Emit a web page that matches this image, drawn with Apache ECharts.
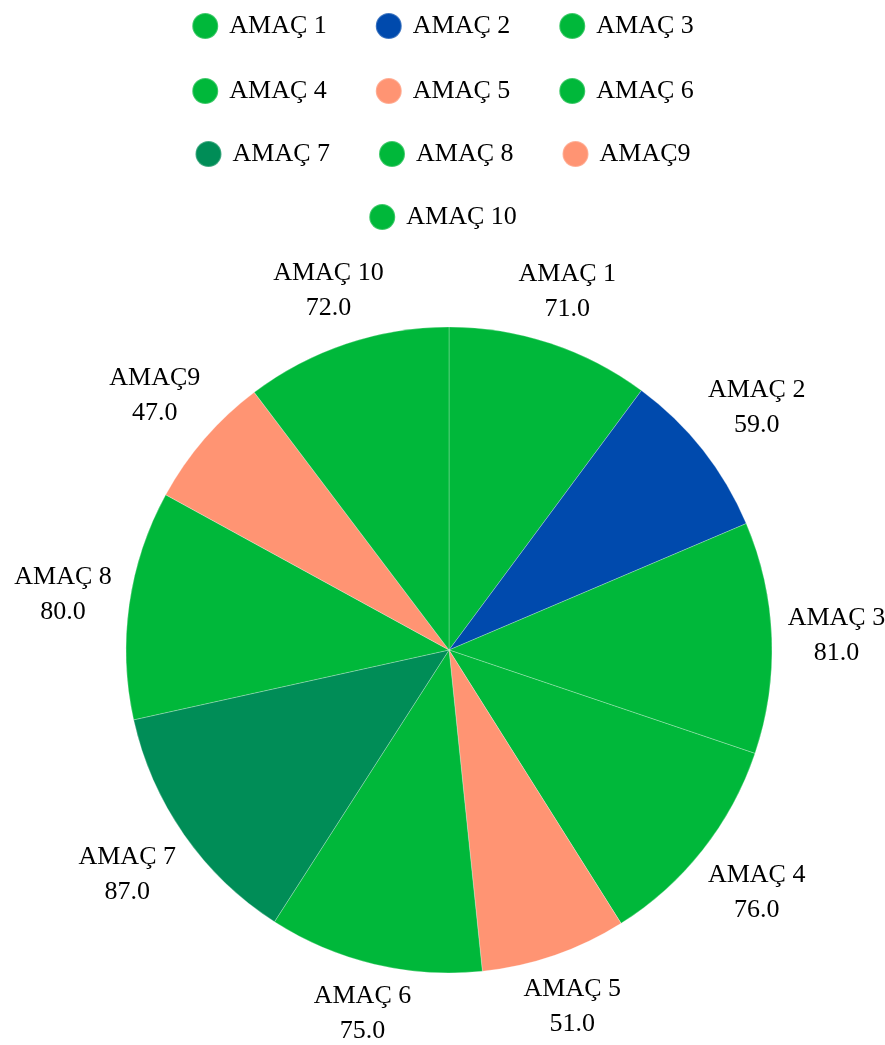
<!DOCTYPE html>
<html>
<head>
<meta charset="utf-8">
<script src="https://cdn.jsdelivr.net/npm/echarts@6/dist/echarts.min.js"></script>
<style>html,body{margin:0;padding:0;background:#fff;}#chart{width:885px;height:1045px;}</style>
</head>
<body>
<div id="chart"></div>
<script>
const categories = ['AMAÇ 1','AMAÇ 2','AMAÇ 3','AMAÇ 4','AMAÇ 5','AMAÇ 6','AMAÇ 7','AMAÇ 8','AMAÇ9','AMAÇ 10'];
const values = [71, 59, 81, 76, 51, 75, 87, 80, 47, 72];
const colors = ['#00B83A','#004AAD','#00B83A','#00B83A','#FF9473','#00B83A','#008D57','#00B83A','#FF9473','#00B83A'];
const legendRows = [[0,1,2],[3,4,5],[6,7,8],[9]];
const legendTops = [7, 72, 135, 198];

const FONT = '"Liberation Serif", serif';
const chart = echarts.init(document.getElementById('chart'), null, {renderer:'canvas'});

const data = categories.map((c,i)=>({name:c, value:values[i], itemStyle:{color:colors[i]}}));

const legends = legendRows.map((row, r)=>({
  data: row.map(i=>({name:categories[i], icon:'circle'})),
  left:'center', top: legendTops[r],
  orient:'horizontal',
  itemWidth:26, itemHeight:26, itemGap:48,
  selectedMode:false,
  textStyle:{fontFamily:FONT, fontSize:26, color:'#000', padding:[0,0,0,6]}
}));

chart.setOption({
  animation:false,
  backgroundColor:'#fff',
  legend: legends,
  series:[{
    type:'pie',
    center:[449,650],
    radius:323,
    startAngle:90,
    clockwise:true,
    avoidLabelOverlap:false,
    data:data,
    itemStyle:{borderColor:'rgba(255,255,255,0.25)', borderWidth:1},
    emphasis:{disabled:true},
    label:{
      show:true, position:'outside',
      fontFamily:FONT, fontSize:26, color:'#000', lineHeight:35,
      formatter:p=>p.name+'\n'+Number(p.value).toFixed(1)
    },
    labelLine:{show:true, length:10, length2:0, lineStyle:{width:0, opacity:0}},
    labelLayout:function(params){
      const pts = params.labelLinePoints;
      if(!pts) return {};
      const p0 = pts[0], p1 = pts[1];
      let dx = p1[0]-p0[0], dy = p1[1]-p0[1];
      const len = Math.sqrt(dx*dx+dy*dy) || 1;
      dx/=len; dy/=len;
      const w = params.labelRect.width, h = params.labelRect.height;
      const d = 15 + Math.abs(dx)*w/2 + Math.abs(dy)*(h/2-10);
      return {x:p0[0]+dx*d, y:p0[1]+dy*d, align:'center', verticalAlign:'middle'};
    }
  }]
});
</script>
</body>
</html>
